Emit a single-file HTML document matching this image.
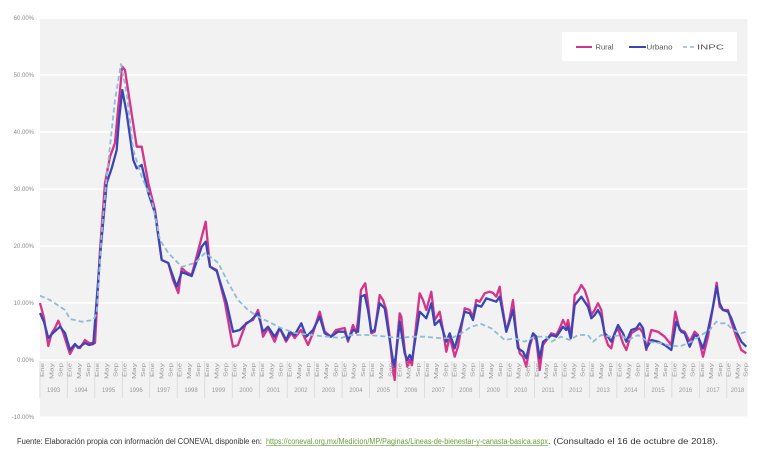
<!DOCTYPE html>
<html><head><meta charset="utf-8"><style>
html,body{margin:0;padding:0;background:#fff;}
svg{display:block;}
</style></head><body>
<svg width="772" height="458" viewBox="0 0 772 458" xmlns="http://www.w3.org/2000/svg" font-family="'Liberation Sans', sans-serif">
<rect x="0" y="0" width="772" height="458" fill="#fff"/>
<rect x="40" y="19" width="707.5" height="397.5" fill="#f2f2f2"/>
<g stroke="#ffffff" stroke-width="1.6">
<line x1="40" y1="75" x2="747.5" y2="75"/>
<line x1="40" y1="132" x2="747.5" y2="132"/>
<line x1="40" y1="189" x2="747.5" y2="189"/>
<line x1="40" y1="246" x2="747.5" y2="246"/>
<line x1="40" y1="303" x2="747.5" y2="303"/>
<line x1="40" y1="360" x2="747.5" y2="360"/>
</g>
<g fill="#8a8a8a" font-size="6" text-anchor="end">
<text x="34" y="20">60.00%</text>
<text x="34" y="77">50.00%</text>
<text x="34" y="134">40.00%</text>
<text x="34" y="191">30.00%</text>
<text x="34" y="248">20.00%</text>
<text x="34" y="305">10.00%</text>
<text x="34" y="362">0.00%</text>
<text x="34" y="419">-10.00%</text>
</g>
<!-- legend -->
<rect x="562" y="32" width="175" height="29" fill="#ffffff"/>
<line x1="576" y1="47" x2="592" y2="47" stroke="#d6338a" stroke-width="2"/>
<text x="595.5" y="49.5" font-size="7" fill="#555" textLength="18" lengthAdjust="spacingAndGlyphs">Rural</text>
<line x1="629" y1="47" x2="646" y2="47" stroke="#3b46b5" stroke-width="2"/>
<text x="646.5" y="49.5" font-size="7" fill="#555" textLength="26" lengthAdjust="spacingAndGlyphs">Urbano</text>
<line x1="683" y1="47" x2="696" y2="47" stroke="#8cbcd8" stroke-width="1.6" stroke-dasharray="4,3"/>
<text x="697" y="49.5" font-size="7" fill="#555" textLength="27" lengthAdjust="spacingAndGlyphs">INPC</text>
<!-- series -->
<polyline fill="none" stroke="#d6338a" stroke-width="2.3" stroke-linejoin="round" points="40,303 44,318 48.3,346 51.7,333 55,328 58.3,320.7 63.3,333 67,345 70,354 75,345 80,348 85,340 89,343 95,343 100,250 105,183 110,156.7 115,143 118,110 122.3,66.7 125,70 130,103 136.7,146.7 141.7,146.7 148.3,183 155,210 161.7,260 168.3,263 173,280 178.3,293 181.7,268 186,272 191.7,275 198.3,250 205.7,221.7 210,266.7 216.7,270 225,303 231,336.7 233,346.7 238,345 241,336.7 246,323 253,320 258,310 259.7,316.7 263,336.7 268,328 274.7,341.7 279.7,328 286,341.7 291.3,333 294.7,338 301,330 308,345 313,333 319.7,311.7 324.7,331.7 331,336.7 336,330 344.7,328 348,341.7 353,325 356.3,333 358,320 361,290 363,286.7 365.3,283.3 368,303.3 371.3,333.3 374.7,331.7 379.7,295 383,300 386.3,310 389.7,336.7 393,370 394.7,380 396.3,350 399.7,313.3 401.3,316.7 404.7,350 407.3,366.7 409.7,360 412,365 416.3,323.3 419.7,293.3 423,300 426.3,310 431.3,291.7 434.7,320 439.7,311.7 443,330 446.3,351.7 449.7,336.7 454.7,356.7 458,346.7 464.7,308.3 469.7,310 473,316.7 476.3,300 479.7,301.7 484.7,293.3 489.7,291.7 493,293 496.3,296.7 499.7,286.7 501.3,300 506.3,331.7 509.7,318.3 513,300 516.3,333.3 519.7,353.3 523,356.7 526.3,366.7 529.7,346.7 533,335 536.3,340 539.7,370 543,345 548,338 551.3,333.3 556.3,335 559.7,328.3 563,320 566.3,326.7 568,320 571.3,336.7 574.7,295 578,291.7 581.3,285 584.7,290 588,300 591.3,315 594.7,310 598,303.3 601.3,310 604.7,335 608,345 611.3,348.3 614.7,333.3 618,328.3 623,343.3 626.3,350 631.3,333.3 636.3,330 639.7,328.3 643,333.3 646.3,350 651.3,330 658,331.7 664.7,336.7 671.3,345 675.3,311.7 679.7,330 684.7,331.7 689.7,341.7 694.7,331.7 698,335 703,356.7 708,336.7 713,306.7 716.7,282.7 719.7,306.7 723,310 728,310 731.3,321.7 736.3,336.7 741.3,350 746.3,353.3"/>
<polyline fill="none" stroke="#3b46b5" stroke-width="2.3" stroke-linejoin="round" points="40,313 44,322 48.3,338 53,333 60,326.7 65,333 70,350 75,344 78.3,348 85,343 89,345 93.3,344 100,256.7 106.7,183 111.7,168.3 116.7,150 119,120 122.3,90 126.7,113.3 133.3,160 136.7,168.3 141.7,165 148.3,193 155,213 161.7,260 168.3,263 176.7,286.7 181.7,272 191.7,276 201.7,246.7 205.7,241.7 210,266.7 216.7,271 226.7,303 233,331.7 239.7,330 244.7,325 251.3,320 258,313.3 263,331.7 268,326.7 274.7,336.7 279.7,328 286.3,340 289.7,331.7 294.7,335 301.3,323.3 306.3,336.7 313,330 319.7,316.7 324.7,333.3 331,336.7 338,331.7 344.7,331.7 348,340 353,330 358,331.7 361,296.7 364.7,295 368,310 371.3,331.7 374.7,330 379.7,303.3 384.7,308.3 389.7,340 394,366.7 396.3,353.3 399.7,321.7 404.7,353.3 407.3,360 409.7,355 412,360 419.7,311.7 426.3,318.3 431.3,303.3 434.7,325 439.7,320 446.3,341.7 449.7,333.3 454.7,348.3 464.7,311.7 469.7,313.3 473,320 476.3,305 481.3,306.7 486.3,298.3 491.3,300 496.3,301.7 499.7,296.7 506.3,331.7 513,310 518,348.3 523,351.7 526.3,358.3 529.7,343.3 533,333.3 536.3,336.7 539.7,358.3 543,341.7 548,338.3 551.3,335 556.3,336.7 559.7,331.7 563,326.7 566.3,330 568,326.7 570.7,338.3 574.7,305 581.3,296.7 588,306.7 591.3,318.3 594.7,315 598,310 601.3,316.7 604.7,333.3 608,336.7 611.3,341.7 614.7,333.3 618,325 623,333.3 626.3,341.7 631.3,330 636.3,328.3 639.7,323.3 643,328.3 646.3,348.3 651.3,340 658,341.7 664.7,345 671.3,350 676.3,321.7 681.3,331.7 684.7,333.3 689.7,346.7 694.7,335 698,336.7 703,348.3 708,330 713,306.7 716.7,286.7 719.7,303.3 723,310 728,311.7 731.3,318.3 736.3,331.7 741.3,341.7 746.3,346.7"/>
<polyline fill="none" stroke="#8cbcd8" stroke-width="1.8" stroke-dasharray="5,3" stroke-linejoin="round" points="40,295.7 50,300 60,306.7 65,310 70,319 81.7,321.7 93.3,320 96.7,313 101.7,233 106.7,176.7 115,100 121,64 126.7,93.3 133.3,150 141.7,176.7 151.7,200 160,240 168.3,253 181.7,266.7 195,263 205,253 212,258 218.3,263 228.3,283 238,300 248,310 258,316.7 271,323 281,328 294.7,333 311,335 328,336.7 341,338 351,335 368,335 388,336.7 398,338.3 411.3,336.7 425,336.7 438,338 451.3,338.3 461.3,333.3 471.3,326.7 481.3,324 491.3,328.3 504.7,340 514.7,338.3 524.7,341.7 534.7,336.7 546,336.7 551.3,341.7 561,336.7 569.7,340 578,335 588,335 593,341.7 601.3,335 611,336.7 621,335 628,340 638,335 648,341.7 661.3,343.3 671.3,346 681,346 691.3,341.7 701.3,335 709.7,330 716.3,321.7 721,323.3 726.3,323.3 733,330 741.3,333.3 746.3,331.7"/>
<!-- x axis labels -->
<g stroke="#d4d4d4" stroke-width="0.7">
<line x1="39.9" y1="361" x2="39.9" y2="398"/><line x1="67.3" y1="361" x2="67.3" y2="398"/><line x1="94.8" y1="361" x2="94.8" y2="398"/><line x1="122.3" y1="361" x2="122.3" y2="398"/><line x1="149.8" y1="361" x2="149.8" y2="398"/><line x1="177.2" y1="361" x2="177.2" y2="398"/><line x1="204.7" y1="361" x2="204.7" y2="398"/><line x1="232.2" y1="361" x2="232.2" y2="398"/><line x1="259.7" y1="361" x2="259.7" y2="398"/><line x1="287.2" y1="361" x2="287.2" y2="398"/><line x1="314.6" y1="361" x2="314.6" y2="398"/><line x1="342.1" y1="361" x2="342.1" y2="398"/><line x1="369.6" y1="361" x2="369.6" y2="398"/><line x1="397.1" y1="361" x2="397.1" y2="398"/><line x1="424.6" y1="361" x2="424.6" y2="398"/><line x1="452" y1="361" x2="452" y2="398"/><line x1="479.5" y1="361" x2="479.5" y2="398"/><line x1="507" y1="361" x2="507" y2="398"/><line x1="534.5" y1="361" x2="534.5" y2="398"/><line x1="562" y1="361" x2="562" y2="398"/><line x1="589.4" y1="361" x2="589.4" y2="398"/><line x1="616.9" y1="361" x2="616.9" y2="398"/><line x1="644.4" y1="361" x2="644.4" y2="398"/><line x1="671.9" y1="361" x2="671.9" y2="398"/><line x1="699.4" y1="361" x2="699.4" y2="398"/><line x1="726.8" y1="361" x2="726.8" y2="398"/>
</g>
<g fill="#9a9a9a" font-size="5.5" text-anchor="end">
<text transform="translate(44.2,363) rotate(-90)" textLength="14" lengthAdjust="spacingAndGlyphs">Ene</text><text transform="translate(53.4,363) rotate(-90)" textLength="16" lengthAdjust="spacingAndGlyphs">May</text><text transform="translate(62.5,363) rotate(-90)" textLength="14" lengthAdjust="spacingAndGlyphs">Sep</text>
<text transform="translate(71.7,363) rotate(-90)" textLength="14" lengthAdjust="spacingAndGlyphs">Ene</text><text transform="translate(80.9,363) rotate(-90)" textLength="16" lengthAdjust="spacingAndGlyphs">May</text><text transform="translate(90,363) rotate(-90)" textLength="14" lengthAdjust="spacingAndGlyphs">Sep</text>
<text transform="translate(99.2,363) rotate(-90)" textLength="14" lengthAdjust="spacingAndGlyphs">Ene</text><text transform="translate(108.4,363) rotate(-90)" textLength="16" lengthAdjust="spacingAndGlyphs">May</text><text transform="translate(117.5,363) rotate(-90)" textLength="14" lengthAdjust="spacingAndGlyphs">Sep</text>
<text transform="translate(126.7,363) rotate(-90)" textLength="14" lengthAdjust="spacingAndGlyphs">Ene</text><text transform="translate(135.9,363) rotate(-90)" textLength="16" lengthAdjust="spacingAndGlyphs">May</text><text transform="translate(145,363) rotate(-90)" textLength="14" lengthAdjust="spacingAndGlyphs">Sep</text>
<text transform="translate(154.2,363) rotate(-90)" textLength="14" lengthAdjust="spacingAndGlyphs">Ene</text><text transform="translate(163.4,363) rotate(-90)" textLength="16" lengthAdjust="spacingAndGlyphs">May</text><text transform="translate(172.5,363) rotate(-90)" textLength="14" lengthAdjust="spacingAndGlyphs">Sep</text>
<text transform="translate(181.6,363) rotate(-90)" textLength="14" lengthAdjust="spacingAndGlyphs">Ene</text><text transform="translate(190.8,363) rotate(-90)" textLength="16" lengthAdjust="spacingAndGlyphs">May</text><text transform="translate(199.9,363) rotate(-90)" textLength="14" lengthAdjust="spacingAndGlyphs">Sep</text>
<text transform="translate(209.1,363) rotate(-90)" textLength="14" lengthAdjust="spacingAndGlyphs">Ene</text><text transform="translate(218.3,363) rotate(-90)" textLength="16" lengthAdjust="spacingAndGlyphs">May</text><text transform="translate(227.4,363) rotate(-90)" textLength="14" lengthAdjust="spacingAndGlyphs">Sep</text>
<text transform="translate(236.6,363) rotate(-90)" textLength="14" lengthAdjust="spacingAndGlyphs">Ene</text><text transform="translate(245.8,363) rotate(-90)" textLength="16" lengthAdjust="spacingAndGlyphs">May</text><text transform="translate(254.9,363) rotate(-90)" textLength="14" lengthAdjust="spacingAndGlyphs">Sep</text>
<text transform="translate(264.1,363) rotate(-90)" textLength="14" lengthAdjust="spacingAndGlyphs">Ene</text><text transform="translate(273.3,363) rotate(-90)" textLength="16" lengthAdjust="spacingAndGlyphs">May</text><text transform="translate(282.4,363) rotate(-90)" textLength="14" lengthAdjust="spacingAndGlyphs">Sep</text>
<text transform="translate(291.6,363) rotate(-90)" textLength="14" lengthAdjust="spacingAndGlyphs">Ene</text><text transform="translate(300.8,363) rotate(-90)" textLength="16" lengthAdjust="spacingAndGlyphs">May</text><text transform="translate(309.9,363) rotate(-90)" textLength="14" lengthAdjust="spacingAndGlyphs">Sep</text>
<text transform="translate(319,363) rotate(-90)" textLength="14" lengthAdjust="spacingAndGlyphs">Ene</text><text transform="translate(328.2,363) rotate(-90)" textLength="16" lengthAdjust="spacingAndGlyphs">May</text><text transform="translate(337.3,363) rotate(-90)" textLength="14" lengthAdjust="spacingAndGlyphs">Sep</text>
<text transform="translate(346.5,363) rotate(-90)" textLength="14" lengthAdjust="spacingAndGlyphs">Ene</text><text transform="translate(355.7,363) rotate(-90)" textLength="16" lengthAdjust="spacingAndGlyphs">May</text><text transform="translate(364.8,363) rotate(-90)" textLength="14" lengthAdjust="spacingAndGlyphs">Sep</text>
<text transform="translate(374,363) rotate(-90)" textLength="14" lengthAdjust="spacingAndGlyphs">Ene</text><text transform="translate(383.2,363) rotate(-90)" textLength="16" lengthAdjust="spacingAndGlyphs">May</text><text transform="translate(392.3,363) rotate(-90)" textLength="14" lengthAdjust="spacingAndGlyphs">Sep</text>
<text transform="translate(401.5,363) rotate(-90)" textLength="14" lengthAdjust="spacingAndGlyphs">Ene</text><text transform="translate(410.7,363) rotate(-90)" textLength="16" lengthAdjust="spacingAndGlyphs">May</text><text transform="translate(419.8,363) rotate(-90)" textLength="14" lengthAdjust="spacingAndGlyphs">Sep</text>
<text transform="translate(429,363) rotate(-90)" textLength="14" lengthAdjust="spacingAndGlyphs">Ene</text><text transform="translate(438.2,363) rotate(-90)" textLength="16" lengthAdjust="spacingAndGlyphs">May</text><text transform="translate(447.3,363) rotate(-90)" textLength="14" lengthAdjust="spacingAndGlyphs">Sep</text>
<text transform="translate(456.4,363) rotate(-90)" textLength="14" lengthAdjust="spacingAndGlyphs">Ene</text><text transform="translate(465.6,363) rotate(-90)" textLength="16" lengthAdjust="spacingAndGlyphs">May</text><text transform="translate(474.7,363) rotate(-90)" textLength="14" lengthAdjust="spacingAndGlyphs">Sep</text>
<text transform="translate(483.9,363) rotate(-90)" textLength="14" lengthAdjust="spacingAndGlyphs">Ene</text><text transform="translate(493.1,363) rotate(-90)" textLength="16" lengthAdjust="spacingAndGlyphs">May</text><text transform="translate(502.2,363) rotate(-90)" textLength="14" lengthAdjust="spacingAndGlyphs">Sep</text>
<text transform="translate(511.4,363) rotate(-90)" textLength="14" lengthAdjust="spacingAndGlyphs">Ene</text><text transform="translate(520.6,363) rotate(-90)" textLength="16" lengthAdjust="spacingAndGlyphs">May</text><text transform="translate(529.7,363) rotate(-90)" textLength="14" lengthAdjust="spacingAndGlyphs">Sep</text>
<text transform="translate(538.9,363) rotate(-90)" textLength="14" lengthAdjust="spacingAndGlyphs">Ene</text><text transform="translate(548.1,363) rotate(-90)" textLength="16" lengthAdjust="spacingAndGlyphs">May</text><text transform="translate(557.2,363) rotate(-90)" textLength="14" lengthAdjust="spacingAndGlyphs">Sep</text>
<text transform="translate(566.4,363) rotate(-90)" textLength="14" lengthAdjust="spacingAndGlyphs">Ene</text><text transform="translate(575.6,363) rotate(-90)" textLength="16" lengthAdjust="spacingAndGlyphs">May</text><text transform="translate(584.7,363) rotate(-90)" textLength="14" lengthAdjust="spacingAndGlyphs">Sep</text>
<text transform="translate(593.8,363) rotate(-90)" textLength="14" lengthAdjust="spacingAndGlyphs">Ene</text><text transform="translate(603,363) rotate(-90)" textLength="16" lengthAdjust="spacingAndGlyphs">May</text><text transform="translate(612.1,363) rotate(-90)" textLength="14" lengthAdjust="spacingAndGlyphs">Sep</text>
<text transform="translate(621.3,363) rotate(-90)" textLength="14" lengthAdjust="spacingAndGlyphs">Ene</text><text transform="translate(630.5,363) rotate(-90)" textLength="16" lengthAdjust="spacingAndGlyphs">May</text><text transform="translate(639.6,363) rotate(-90)" textLength="14" lengthAdjust="spacingAndGlyphs">Sep</text>
<text transform="translate(648.8,363) rotate(-90)" textLength="14" lengthAdjust="spacingAndGlyphs">Ene</text><text transform="translate(658,363) rotate(-90)" textLength="16" lengthAdjust="spacingAndGlyphs">May</text><text transform="translate(667.1,363) rotate(-90)" textLength="14" lengthAdjust="spacingAndGlyphs">Sep</text>
<text transform="translate(676.3,363) rotate(-90)" textLength="14" lengthAdjust="spacingAndGlyphs">Ene</text><text transform="translate(685.5,363) rotate(-90)" textLength="16" lengthAdjust="spacingAndGlyphs">May</text><text transform="translate(694.6,363) rotate(-90)" textLength="14" lengthAdjust="spacingAndGlyphs">Sep</text>
<text transform="translate(703.8,363) rotate(-90)" textLength="14" lengthAdjust="spacingAndGlyphs">Ene</text><text transform="translate(713,363) rotate(-90)" textLength="16" lengthAdjust="spacingAndGlyphs">May</text><text transform="translate(722.1,363) rotate(-90)" textLength="14" lengthAdjust="spacingAndGlyphs">Sep</text>
<text transform="translate(730.5,363) rotate(-90)" textLength="14" lengthAdjust="spacingAndGlyphs">Ene</text><text transform="translate(739.3,363) rotate(-90)" textLength="16" lengthAdjust="spacingAndGlyphs">May</text><text transform="translate(747.5,363) rotate(-90)" textLength="14" lengthAdjust="spacingAndGlyphs">Sep</text>
</g>
<g fill="#9a9a9a" font-size="6" text-anchor="middle">
<text x="53.6" y="392">1993</text><text x="81.1" y="392">1994</text><text x="108.5" y="392">1995</text><text x="136" y="392">1996</text><text x="163.5" y="392">1997</text><text x="191" y="392">1998</text><text x="218.5" y="392">1999</text><text x="245.9" y="392">2000</text><text x="273.4" y="392">2001</text><text x="300.9" y="392">2002</text><text x="328.4" y="392">2003</text><text x="355.9" y="392">2004</text><text x="383.3" y="392">2005</text><text x="410.8" y="392">2006</text><text x="438.3" y="392">2007</text><text x="465.8" y="392">2008</text><text x="493.3" y="392">2009</text><text x="520.7" y="392">2010</text><text x="548.2" y="392">2011</text><text x="575.7" y="392">2012</text><text x="603.2" y="392">2013</text><text x="630.7" y="392">2014</text><text x="658.1" y="392">2015</text><text x="685.6" y="392">2016</text><text x="713.1" y="392">2017</text><text x="737.5" y="392">2018</text>
</g>
<!-- footer -->
<text x="17" y="444" font-size="7.8" fill="#333" textLength="245" lengthAdjust="spacingAndGlyphs">Fuente:  Elaboración propia con información del CONEVAL disponible  en:</text>
<text x="266" y="444" font-size="7.8" fill="#6a9f3c" textLength="282" lengthAdjust="spacingAndGlyphs">https://coneval.org.mx/Medicion/MP/Paginas/Lineas-de-bienestar-y-canasta-basica.aspx</text>
<line x1="266" y1="445.6" x2="548" y2="445.6" stroke="#6a9f3c" stroke-width="0.6"/>
<text x="548" y="444" font-size="7.8" fill="#333" textLength="170" lengthAdjust="spacingAndGlyphs">.  (Consultado el 16 de octubre de 2018).</text>
</svg>
</body></html>
